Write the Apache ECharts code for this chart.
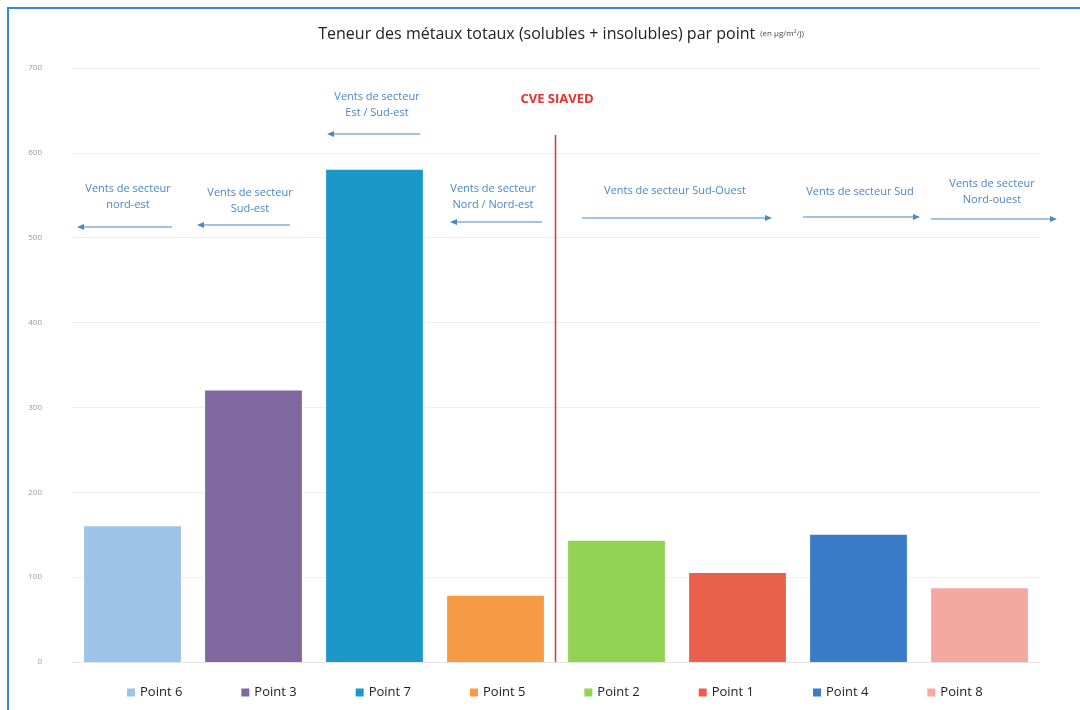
<!DOCTYPE html>
<html><head><meta charset="utf-8">
<script src="https://cdn.jsdelivr.net/npm/echarts@6/dist/echarts.min.js"></script>
<style>html,body{margin:0;padding:0;background:#fff}#c{width:1080px;height:710px}</style>
</head><body><div id="c"></div>
<script>
const categories = ['Point 6','Point 3','Point 7','Point 5','Point 2','Point 1','Point 4','Point 8'];
const values = [160, 320, 580, 78, 143, 105, 150, 87];
const colors = ['#9cc3e8','#7f689f','#1b98c8','#f79a46','#93d353','#e9604d','#3a7cc7','#f3a8a2'];
const yTicks = [0,100,200,300,400,500,600,700];

const series = categories.map((name, i) => ({
  name: name,
  type: 'bar',
  stack: 'all',
  barCategoryGap: '20%',
  itemStyle: { color: colors[i] },
  data: values.map((v, j) => (j === i ? v : null))
}));

const FONT = 'Open Sans, Lato, sans-serif';
const annoColor = '#4a86c8';
function label(x, y, text) {
  return { type: 'text', x: x, y: y, z: 100, style: { text: text, fill: annoColor, font: '11px ' + FONT, textAlign: 'center', lineHeight: 16 } };
}
function arrow(x1, x2, y) {
  const dir = x2 > x1 ? 1 : -1;
  return [
    { type: 'line', z: 100, shape: { x1: x1, y1: y, x2: x2 - dir * 5, y2: y }, style: { stroke: annoColor, lineWidth: 1.2 } },
    { type: 'polygon', z: 100, shape: { points: [[x2, y], [x2 - dir * 7, y - 3], [x2 - dir * 7, y + 3]] }, style: { fill: annoColor } }
  ];
}

const chart = echarts.init(document.getElementById('c'));
chart.setOption({
  animation: false,
  backgroundColor: '#fff',
  title: {
    text: '{m|Teneur des métaux totaux (solubles + insolubles) par point} {s|(en µg/m²/j)}',
    left: 556, top: 20, textAlign: 'center',
    textStyle: { fontWeight: 'normal', rich: {
      m: { fontSize: 16, color: '#222', fontFamily: FONT, fontWeight: 'normal' },
      s: { fontSize: 8, color: '#444', fontFamily: FONT, fontWeight: 'normal' }
    } }
  },
  legend: {
    bottom: 6, left: 122,
    icon: 'rect', itemWidth: 8, itemHeight: 8, itemGap: 59,
    textStyle: { fontSize: 13, color: '#222', fontFamily: FONT },
    data: categories
  },
  grid: { left: 72, right: 40, top: 68, bottom: 48 },
  xAxis: {
    type: 'category', data: categories,
    axisLine: { show: true, lineStyle: { color: '#e6e6e6' } },
    axisTick: { show: false }, axisLabel: { show: false }
  },
  yAxis: {
    type: 'value', min: 0, max: 700, interval: 100,
    axisLine: { show: false }, axisTick: { show: false },
    axisLabel: { fontSize: 8, color: '#9a9a9a', margin: 30, fontFamily: FONT,
      formatter: v => (yTicks.includes(v) ? String(v) : '') },
    splitLine: { lineStyle: { color: '#efefef' } }
  },
  series: series,
  graphic: [].concat(
    [{ type: 'rect', z: 100, shape: { x: 8, y: 8, width: 1100, height: 720 }, style: { fill: 'none', stroke: '#3a86d6', lineWidth: 2 } }],
    [label(128, 181, 'Vents de secteur\nnord-est')], arrow(172, 77, 227),
    [label(250, 185, 'Vents de secteur\nSud-est')], arrow(290, 197, 225),
    [label(377, 89, 'Vents de secteur\nEst / Sud-est')], arrow(420, 327, 134),
    [label(493, 181, 'Vents de secteur\nNord / Nord-est')], arrow(542, 450, 222),
    [{ type: 'text', z: 100, x: 557, y: 93, style: { text: 'CVE SIAVED', fill: '#e8302c', font: 'bold 13px ' + FONT, textAlign: 'center' } }],
    [{ type: 'line', z: 100, shape: { x1: 555.5, y1: 135, x2: 555.5, y2: 662 }, style: { stroke: '#e8302c', lineWidth: 1.5 } }],
    [label(675, 183, 'Vents de secteur Sud-Ouest')], arrow(582, 772, 218),
    [label(860, 184, 'Vents de secteur Sud')], arrow(803, 920, 217),
    [label(992, 176, 'Vents de secteur\nNord-ouest')], arrow(931, 1057, 219)
  )
});
</script></body></html>
